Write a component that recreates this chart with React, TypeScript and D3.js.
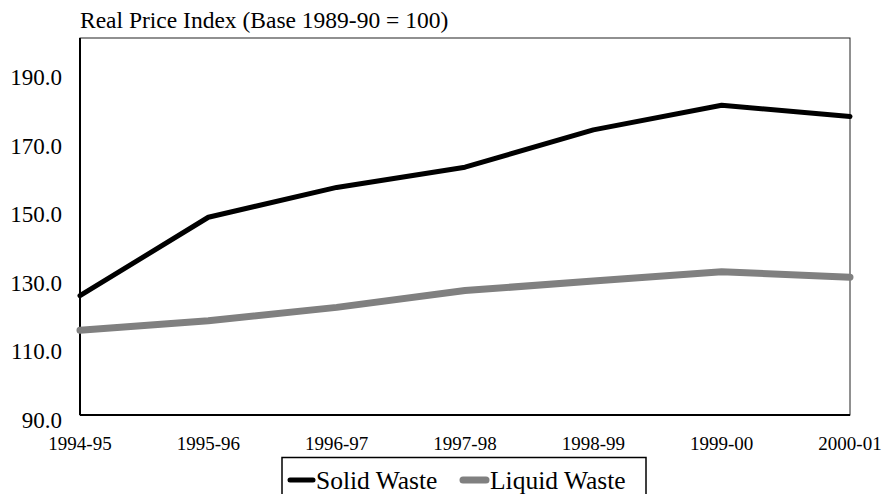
import * as d3 from 'd3';

const years = ['1994-95', '1995-96', '1996-97', '1997-98', '1998-99', '1999-00', '2000-01'];
const solidWaste = [124.8, 147.7, 156.4, 162.3, 173.2, 180.4, 177.1];
const liquidWaste = [114.7, 117.5, 121.4, 126.3, 129.1, 131.8, 130.2];
const yTicks = [90, 110, 130, 150, 170, 190];

const series = [
  { name: 'Solid Waste', values: solidWaste, color: '#000000', width: 5 },
  { name: 'Liquid Waste', values: liquidWaste, color: '#808080', width: 7 },
];

const W = 887;
const H = 494;
const left = 80;
const right = 850;
const top = 38;
const bottom = 415;
const serif = { fontFamily: "'Liberation Serif', 'DejaVu Serif', serif" };

export default function App() {
  const x = d3.scalePoint<string>().domain(years).range([left, right]);
  const y = d3.scaleLinear().domain([90, 200]).range([bottom, top]);

  const line = d3
    .line<number>()
    .x((_, i) => x(years[i]) as number)
    .y((d) => y(d));

  return (
    <svg width={W} height={H} style={{ position: 'absolute', left: 0, top: 0, background: '#fff' }}>
      <text x={left} y={28} fontSize={23.5} fill="#000" style={serif}>
        Real Price Index (Base 1989-90 = 100)
      </text>

      <rect x={left} y={top} width={right - left} height={bottom - top} fill="none" stroke="#222" strokeWidth={1} />
      <line x1={left} x2={left} y1={top} y2={bottom} stroke="#000" strokeWidth={2} />
      <line x1={left} x2={right} y1={bottom} y2={bottom} stroke="#000" strokeWidth={2} />

      {yTicks.map((t) => (
        <text key={t} x={62} y={y(t) + 13} fontSize={23} textAnchor="end" fill="#000" style={serif}>
          {t.toFixed(1)}
        </text>
      ))}

      {years.map((yr) => (
        <text key={yr} x={x(yr)} y={450} fontSize={19} textAnchor="middle" fill="#000" style={serif}>
          {yr}
        </text>
      ))}

      {series.map((s) => (
        <path
          key={s.name}
          d={line(s.values) ?? ''}
          fill="none"
          stroke={s.color}
          strokeWidth={s.width}
          strokeLinejoin="round"
          strokeLinecap="round"
        />
      ))}

      <rect x={282} y={457.5} width={364} height={50} fill="#fff" stroke="#000" strokeWidth={1.5} />
      <line x1={290} x2={313} y1={480} y2={480} stroke="#000" strokeWidth={5} strokeLinecap="round" />
      <text x={316} y={489} fontSize={25.5} fill="#000" style={serif}>Solid Waste</text>
      <line x1={463} x2={486} y1={480} y2={480} stroke="#808080" strokeWidth={7} strokeLinecap="round" />
      <text x={490} y={489} fontSize={25.5} fill="#000" style={serif}>Liquid Waste</text>
    </svg>
  );
}
